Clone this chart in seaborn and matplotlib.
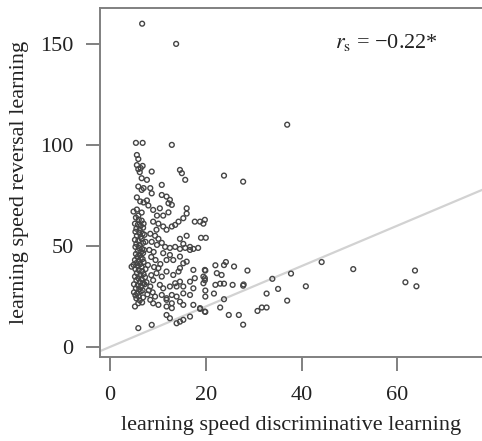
import matplotlib
matplotlib.use("Agg")
import matplotlib.pyplot as plt
import seaborn as sns
import numpy as np
import pandas as pd

# ---------------- data ----------------
x_top = [6.7, 13.8, 37.0, 5.4, 6.8, 12.9, 5.6, 5.9]
y_top = [160, 150, 110, 101, 101, 100, 95, 93]

x_b = [5.6, 5.9, 6.2, 6.4, 6.8, 8.7, 14.6, 15.0, 15.7, 23.8, 27.8, 7.7, 6.6, 10.8]
y_b = [90, 88, 86.5, 88.5, 89.6, 86.8, 87.6, 86, 82.7, 84.8, 81.8, 82.7, 83.5, 80.2]

x_c = [5.9, 6.6, 7.0, 8.4, 8.7, 10.8, 11.8, 12.5, 12.9, 12.2, 5.6, 6.3, 7.0, 7.7, 8.0,
       5.6, 4.9, 5.9, 6.6, 9.0, 10.4, 9.8, 11.1, 12.2, 16.0, 16.0]
y_c = [79.4, 77.7, 78.6, 78.6, 76, 75.2, 74.4, 72.8, 70.3, 71.1, 74, 72, 71.5, 72.5, 70,
       68, 67, 65, 66.5, 67.8, 68.6, 65, 65, 66.6, 68.6, 66]

x_d = [15.3, 14.3, 13.6, 12.9, 17.7, 18.8, 19.8, 19.5, 5.4, 6.0, 6.6, 5.2, 5.8, 6.4, 7.0,
       5.5, 6.2, 6.9, 9.0, 10.1, 9.7, 11.1, 11.8, 19.0, 20.0]
y_d = [63.7, 62, 60.4, 59.6, 62, 62, 62.9, 61, 64, 63, 62.5, 61, 60.5, 60, 61,
       58.5, 58, 59, 62, 61, 58, 59.6, 58, 54, 54]

x_e = [5.3, 6.1, 6.8, 5.6, 6.4, 7.2, 5.2, 5.9, 6.6, 7.4, 5.5, 6.2, 6.9, 5.3, 6.0, 6.7, 5.8,
       6.5, 7.1, 5.4, 6.2, 6.9, 5.7, 6.4, 5.2, 6.0, 6.8, 5.5, 6.3, 7.0, 5.8, 4.9, 4.5, 6.6]
y_e = [57, 56.5, 56, 55, 54.5, 55.5, 53, 52.5, 53.5, 52, 51, 50.5, 51.5, 49.5, 49, 48.5, 47.5,
       47, 48, 46, 45.5, 46.5, 44.5, 44, 43, 42.5, 43.5, 41.5, 41, 42, 40, 40.6, 39.7, 39.5]

x_f = [8.4, 9.4, 10.1, 8.7, 9.8, 10.8, 8.2, 9.1, 14.6, 16.0, 15.3, 16.7, 11.5, 12.5, 13.6,
       14.6, 15.7, 16.7, 17.4, 18.4, 11.1, 12.5, 11.8, 13.2, 14.6, 15.3, 16.0, 14.6, 8.6,
       9.5, 10.5, 7.9, 9.2]
y_f = [56, 55, 53.5, 52, 50.5, 51.5, 48, 47, 53.5, 55, 51, 48, 49.5, 49, 49.5,
       48.5, 49, 49.5, 48.5, 49, 46.4, 45.5, 43, 43, 44.7, 41.4, 42.2, 39, 44.5,
       43, 41, 40.5, 39.5]

x_g = [22.0, 23.8, 24.2, 25.9, 28.7, 19.9, 19.5, 19.8, 22.0, 23.0, 23.8, 25.6, 27.8, 27.9,
       33.9, 37.8, 44.2, 40.9, 50.8, 63.7, 61.7, 64.0, 35.1, 32.7, 37.0, 21.7, 19.9, 19.9,
       23.8, 23.0, 18.8, 19.9, 24.8, 26.9, 27.8, 30.8, 31.7, 32.7]
y_g = [40.4, 40.5, 42, 39.8, 37.8, 37.8, 34.8, 33, 30.7, 31.3, 31.3, 30.7, 30.3, 30.9,
       33.7, 36.3, 42, 30, 38.5, 37.8, 32, 30, 28.7, 26.4, 22.9, 26.4, 27.9, 24.9,
       23.6, 19.5, 18.8, 17.3, 15.8, 15.8, 11, 17.8, 19.5, 19.5]

x_h = [17.4, 19.8, 17.7, 19.8, 19.5, 22.3, 23.3]
y_h = [38.1, 38.1, 34, 34, 31.5, 36.5, 35.6]

x_i = [10.8, 11.8, 13.2, 14.3, 10.4, 11.1, 12.5, 16.7, 17.4, 15.3, 13.9, 13.6, 14.6, 10.8,
       11.8, 12.9, 13.9, 15.3, 16.7, 11.8, 12.9, 11.8, 12.5, 14.6, 13.9, 15.3, 16.7, 17.4,
       18.8, 19.8, 9.0, 10.1, 9.4, 8.4, 11.8, 12.9, 14.6, 15.3, 5.9, 8.7]
y_i = [34.8, 37.3, 35.6, 37.3, 30.7, 29, 29.9, 32.3, 29, 29.9, 29.9, 31.5, 32.3, 25.7,
       24.1, 25.7, 24.9, 26.5, 25.7, 20, 19.2, 15.8, 14.2, 12.5, 11.7, 13.4, 15, 20.8,
       19.2, 17.5, 21.6, 20.8, 24.9, 23.3, 23.3, 21.6, 22.4, 20.8, 9.3, 10.9]

x_j = [5.3, 6.0, 6.7, 7.4, 5.6, 6.3, 7.0, 5.2, 5.9, 6.6, 7.3, 5.5, 6.2, 6.9, 5.0, 5.8, 6.5,
       7.2, 5.4, 6.1, 6.8, 5.0, 5.7, 6.4, 5.3, 6.0, 6.9, 5.5, 6.2, 5.9, 6.7, 5.2, 7.6, 8.1,
       8.6, 8.4, 9.0, 9.7, 10.1, 7.8, 8.9]
y_j = [38.5, 38, 37.5, 38.5, 36.5, 35.5, 36, 34.8, 34, 33.5, 34.5, 33, 32, 31.5, 31, 30.5, 30,
       31, 29, 28.5, 28, 27, 26.5, 27.5, 25.5, 25, 24.5, 24, 23, 21.6, 22, 20, 32, 28,
       35.5, 29.9, 33, 36.5, 39, 26, 27]

disc_speed = x_top + x_b + x_c + x_d + x_e + x_f + x_g + x_h + x_i + x_j
rev_speed = y_top + y_b + y_c + y_d + y_e + y_f + y_g + y_h + y_i + y_j

line_intercept = 0.0
line_slope = 1.0

x_ticks = [0, 20, 40, 60]
y_ticks = [0, 50, 100, 150]
x_label = "learning speed discriminative learning"
y_label = "learning speed reversal learning"
annot = r"$r_{\rm s}$ = −0.22*"

# ---------------- plot ----------------
sns.set_style("white")
plt.rcParams["font.family"] = ["Liberation Serif", "DejaVu Serif"]
plt.rcParams["mathtext.fontset"] = "stix"

df = pd.DataFrame({"disc": disc_speed, "rev": rev_speed})

fig = plt.figure(figsize=(4.82, 4.41), dpi=100)
ax = fig.add_axes([0.2075, 0.1905, 0.7925, 0.7915])

xlim = (-2.1, 77.7)
ylim = (-5, 167.8)

lx = np.array(xlim)
ax.plot(lx, line_intercept + line_slope * lx, color="#d2d2d2", lw=1.6, zorder=1)

sns.scatterplot(data=df, x="disc", y="rev", ax=ax, marker="o", s=12,
                facecolor="none", edgecolor="#454545", linewidth=1.0, zorder=2)

ax.set_xlim(*xlim)
ax.set_ylim(*ylim)
ax.set_xticks(x_ticks)
ax.set_yticks(y_ticks)
ax.set_xlabel(x_label, fontsize=16, color="#222222", labelpad=8)
ax.set_ylabel(y_label, fontsize=16, color="#222222", labelpad=8)

for side in ["top", "left", "bottom"]:
    ax.spines[side].set_visible(True)
    ax.spines[side].set_color("#808080")
    ax.spines[side].set_linewidth(1.4)
ax.spines["right"].set_visible(False)

ax.tick_params(axis="both", direction="out", length=10, width=1.4, color="#808080",
               labelsize=16, labelcolor="#222222",
               bottom=True, left=True, top=False, right=False)
ax.tick_params(axis="x", pad=11)
ax.tick_params(axis="y", pad=9)

ax.text(47, 150.5, annot, fontsize=16, color="#222222", ha="left", va="center")

fig.savefig("out.png", dpi=100)
